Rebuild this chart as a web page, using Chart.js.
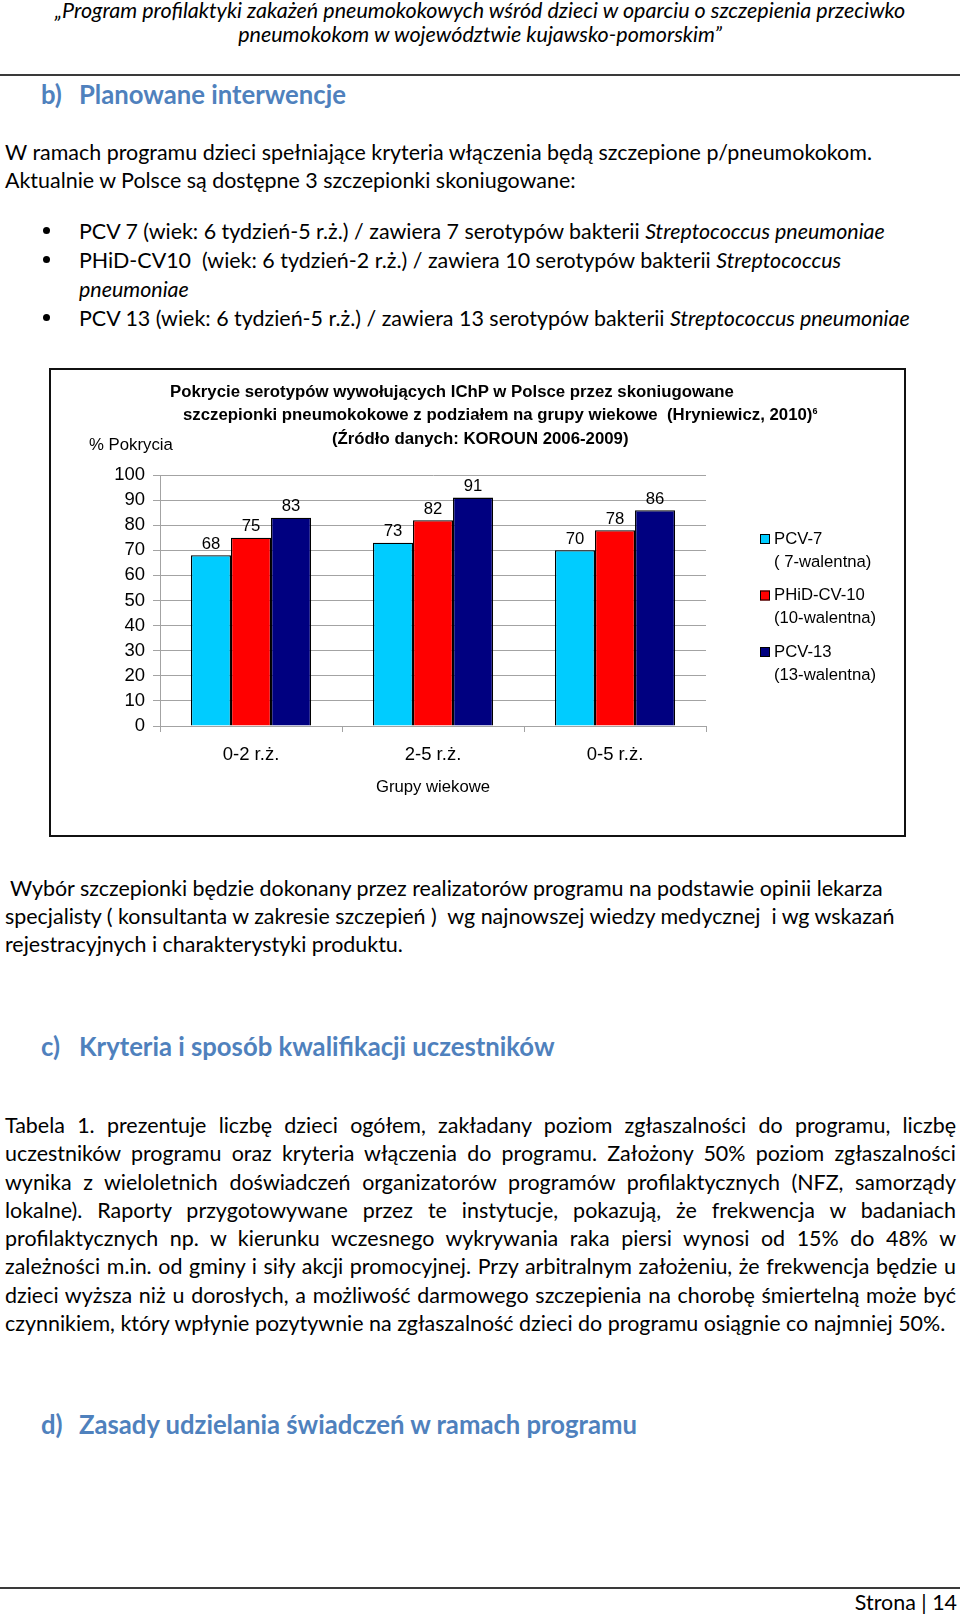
<!DOCTYPE html>
<html lang="pl">
<head>
<meta charset="utf-8">
<title>Pokrycie serotypów IChP</title>
<script src="https://cdn.jsdelivr.net/npm/chart.js@4.4.1/dist/chart.umd.min.js"></script>
<style>
  html, body { margin: 0; padding: 0; background: #fff; }
  body { position: relative; width: 960px; height: 1617px; overflow: hidden; color: #000;
         font-family: Lato, "Open Sans", sans-serif; --body: 21px; --head: 27px; --hdr: 18px; }
  .ln { position: absolute; white-space: nowrap; line-height: 28px; height: 28px; }
  .body { font-size: var(--body); }
  .head { font-size: var(--head); font-weight: bold; color: #4f81bd; }
  .hdr { font-size: var(--hdr); font-style: italic; left: 0; width: 960px; text-align: center; }
  .rule { position: absolute; left: 0; width: 960px; height: 2px; background: #3a3a3a; }
  .dot { position: absolute; width: 7px; height: 7px; border-radius: 50%; background: #000; }
  .just { position: absolute; left: 5px; width: 951px; font-size: var(--body); line-height: 28.3px; }
  .just div { text-align: justify; text-align-last: justify; white-space: nowrap; }
  .just div.last { text-align-last: left; }
  .fit { display: inline-block; }
  #chartBox { position: absolute; left: 49px; top: 368px; width: 857px; height: 469px;
              border: 2px solid #111; box-sizing: border-box; }
  #chartBox canvas { position: absolute; left: 0; top: 0; }
  .ctitle { position: absolute; white-space: nowrap; font-family: "Liberation Sans", Arial, sans-serif;
            font-size: 16.8px; line-height: 20px; height: 20px; }
  .ctitle sup { font-size: 9px; vertical-align: 6px; line-height: 0; }
</style>
</head>
<body>

<div class="ln hdr" style="top:-2px;line-height:24px;"><span class="fit" id="hdrRef">„Program profilaktyki zakażeń pneumokokowych wśród dzieci w oparciu o szczepienia przeciwko</span></div>
<div class="ln hdr" style="top:22px;line-height:24px;">pneumokokom w województwie kujawsko-pomorskim”</div>
<div class="rule" style="top:74px;"></div>

<div class="ln head" style="left:41px;top:78px;line-height:32px;height:32px;">b)</div>
<div class="ln head" style="left:79px;top:78px;line-height:32px;height:32px;"><span class="fit" id="headRef">Planowane interwencje</span></div>

<div class="ln body" style="left:5px;top:138px;">W ramach programu dzieci spełniające kryteria włączenia będą szczepione p/pneumokokom.</div>
<div class="ln body" style="left:5px;top:166px;">Aktualnie w Polsce są dostępne 3 szczepionki skoniugowane:</div>

<div class="dot" style="left:43px;top:227px;"></div>
<div class="ln body" style="left:79px;top:217px;">PCV 7 (wiek: 6 tydzień-5 r.ż.) / zawiera 7 serotypów bakterii <i>Streptococcus pneumoniae</i></div>
<div class="dot" style="left:43px;top:256px;"></div>
<div class="ln body" style="left:79px;top:246px;">PHiD-CV10&nbsp; (wiek: 6 tydzień-2 r.ż.) / zawiera 10 serotypów bakterii <i>Streptococcus</i></div>
<div class="ln body" style="left:79px;top:275px;"><i>pneumoniae</i></div>
<div class="dot" style="left:43px;top:314px;"></div>
<div class="ln body" style="left:79px;top:304px;">PCV 13 (wiek: 6 tydzień-5 r.ż.) / zawiera 13 serotypów bakterii <i>Streptococcus pneumoniae</i></div>

<!-- chart -->
<div id="chartBox"><canvas id="coverageChart" width="853" height="465"></canvas></div>
<div class="ctitle" style="left:170px;top:382px;font-weight:bold;">Pokrycie serotypów wywołujących IChP w Polsce przez skoniugowane</div>
<div class="ctitle" style="left:183px;top:405px;font-weight:bold;">szczepionki pneumokokowe z podziałem na grupy wiekowe&nbsp; (Hryniewicz, 2010)<sup>6</sup></div>
<div class="ctitle" style="left:332px;top:429px;font-weight:bold;">(Źródło danych: KOROUN 2006-2009)</div>
<div class="ctitle" style="left:89px;top:435px;">% Pokrycia</div>

<div class="ln body" style="left:10px;top:874px;">Wybór szczepionki będzie dokonany przez realizatorów programu na podstawie opinii lekarza</div>
<div class="ln body" style="left:5px;top:902px;">specjalisty ( konsultanta w zakresie szczepień )&nbsp; wg najnowszej wiedzy medycznej&nbsp; i wg wskazań</div>
<div class="ln body" style="left:5px;top:930px;">rejestracyjnych i charakterystyki produktu.</div>

<div class="ln head" style="left:41px;top:1030px;line-height:32px;height:32px;">c)</div>
<div class="ln head" style="left:79px;top:1030px;line-height:32px;height:32px;">Kryteria i sposób kwalifikacji uczestników</div>

<div class="just" style="top:1111px;">
  <div>Tabela 1. prezentuje liczbę dzieci ogółem, zakładany poziom zgłaszalności do programu, liczbę</div>
  <div>uczestników programu oraz kryteria włączenia do programu. Założony 50% poziom zgłaszalności</div>
  <div>wynika z wieloletnich doświadczeń organizatorów programów profilaktycznych (NFZ, samorządy</div>
  <div>lokalne). Raporty przygotowywane przez te instytucje, pokazują, że frekwencja w&nbsp;badaniach</div>
  <div>profilaktycznych np. w kierunku wczesnego wykrywania raka piersi wynosi od 15% do 48% w</div>
  <div>zależności m.in. od gminy i siły akcji promocyjnej. Przy arbitralnym założeniu, że frekwencja będzie u</div>
  <div>dzieci wyższa niż u dorosłych, a możliwość darmowego szczepienia na chorobę śmiertelną może być</div>
  <div class="last"><span class="fit" id="justRef">czynnikiem, który wpłynie pozytywnie na zgłaszalność dzieci do programu osiągnie co najmniej 50%.</span></div>
</div>

<div class="ln head" style="left:41px;top:1408px;line-height:32px;height:32px;">d)</div>
<div class="ln head" style="left:79px;top:1408px;line-height:32px;height:32px;">Zasady udzielania świadczeń w ramach programu</div>

<div class="rule" style="top:1587px;"></div>
<div class="ln body" style="left:700px;width:257px;text-align:right;top:1588px;">Strona | 14</div>

<script>
// fit the stand-in fonts to the widths of the original lines
function fitVar(id, target, name) {
    const el = document.getElementById(id);
    const fs = parseFloat(getComputedStyle(el).fontSize);
    const w = el.getBoundingClientRect().width;
    document.body.style.setProperty(name, (fs * target / w).toFixed(2) + 'px');
}
fitVar('hdrRef', 851, '--hdr');
fitVar('headRef', 267, '--head');
fitVar('justRef', 941, '--body');

// Chart data
const ageGroups = ['0-2 r.ż.', '2-5 r.ż.', '0-5 r.ż.'];
const seriesNames = ['PCV-7', 'PHiD-CV-10', 'PCV-13'];
const seriesNotes = ['( 7-walentna)', '(10-walentna)', '(13-walentna)'];
const pcv7Values = [68, 73, 70];
const phidValues = [75, 82, 78];
const pcv13Values = [83, 91, 86];
const seriesColors = ['#00ccff', '#ff0000', '#000080'];

const fontFamily = '"Liberation Sans", Arial, sans-serif';
const gridColor = '#a3a3a3';

// value labels above each bar
const barValueLabels = {
    id: 'barValueLabels',
    afterDatasetsDraw(chart) {
        const ctx = chart.ctx;
        ctx.save();
        ctx.font = '16.7px ' + fontFamily;
        ctx.fillStyle = '#000';
        ctx.textAlign = 'center';
        ctx.textBaseline = 'middle';
        chart.data.datasets.forEach((ds, i) => {
            chart.getDatasetMeta(i).data.forEach((bar, j) => {
                ctx.fillText(ds.data[j], bar.x, bar.y - 11);
            });
        });
        ctx.restore();
    }
};

// legend on the right, two lines per entry
const sideLegend = {
    id: 'sideLegend',
    afterDraw(chart) {
        const ctx = chart.ctx;
        const area = chart.chartArea;
        const x = area.right + 54;
        ctx.save();
        ctx.font = '16.7px ' + fontFamily;
        ctx.textBaseline = 'middle';
        chart.data.datasets.forEach((ds, i) => {
            const y = area.top + 64 + i * 56.5;
            ctx.fillStyle = ds.backgroundColor;
            ctx.fillRect(x, y - 5, 10, 10);
            ctx.strokeStyle = '#000';
            ctx.lineWidth = 1;
            ctx.strokeRect(x + 0.5, y - 4.5, 9, 9);
            ctx.fillStyle = '#000';
            ctx.fillText(ds.label, x + 14, y);
            ctx.fillText(seriesNotes[i], x + 14, y + 23);
        });
        ctx.restore();
    }
};

const ctx = document.getElementById('coverageChart');
const seriesValues = [pcv7Values, phidValues, pcv13Values];

new Chart(ctx, {
    type: 'bar',
    data: {
        labels: ageGroups,
        datasets: seriesNames.map((name, i) => ({
            label: name,
            data: seriesValues[i],
            backgroundColor: seriesColors[i],
            borderColor: '#000',
            borderWidth: 1.3,
            categoryPercentage: 0.66,
            barPercentage: 1.0
        }))
    },
    options: {
        responsive: false,
        animation: false,
        layout: { padding: { left: 0, top: 105, right: 198, bottom: 38 } },
        plugins: {
            legend: { display: false },
            title: { display: false },
            tooltip: { enabled: false }
        },
        scales: {
            x: {
                grid: { display: true, drawOnChartArea: false, tickLength: 6, color: gridColor, offset: true },
                border: { display: true, color: gridColor },
                ticks: { color: '#000', font: { family: fontFamily, size: 18.5 }, padding: 12 },
                title: {
                    display: true,
                    text: 'Grupy wiekowe',
                    color: '#000',
                    font: { family: fontFamily, size: 16.7 },
                    padding: 0
                },
                afterFit: (scale) => { scale.height = 71; }
            },
            y: {
                min: 0,
                max: 100,
                ticks: {
                    stepSize: 10,
                    autoSkip: false,
                    color: '#000',
                    font: { family: fontFamily, size: 18.5, lineHeight: 1 },
                    padding: 8
                },
                grid: { color: gridColor, tickLength: 7 },
                border: { display: true, color: gridColor },
                afterFit: (scale) => { scale.width = 109; }
            }
        }
    },
    plugins: [barValueLabels, sideLegend]
});
</script>
</body>
</html>
